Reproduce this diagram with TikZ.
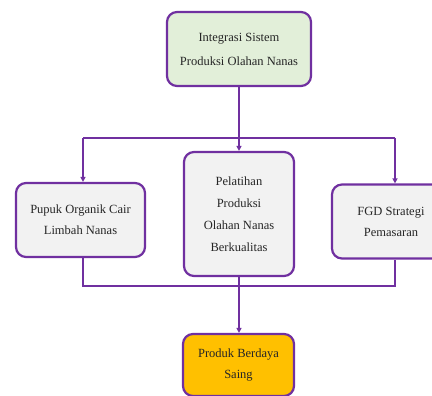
\documentclass[tikz,border=0pt]{standalone}
\usepackage{fontspec}
\setmainfont{Liberation Serif}
\usetikzlibrary{arrows.meta}
\definecolor{purp}{HTML}{7030A0}
\definecolor{greenfill}{HTML}{E2EFD9}
\definecolor{grayfill}{HTML}{F2F2F2}
\definecolor{orangefill}{HTML}{FFC000}
\begin{document}
\begin{tikzpicture}[x=1pt,y=-1pt,
  box/.style={draw=purp, line width=2.2pt, rounded corners=10pt, align=center,
    inner sep=0pt, font=\fontsize{12.5}{21}\selectfont, text=black!85},
  conn/.style={draw=purp, line width=1.7pt},
  arr/.style={conn, -{Triangle[length=5pt,width=5pt]}}]
\useasboundingbox (0,0) rectangle (432,396);
\clip (0,0) rectangle (432,396);
\node[box, fill=greenfill, minimum width=144pt, minimum height=74pt,
  font=\fontsize{12.5}{24}\selectfont] (top) at (239,49)
  {Integrasi Sistem\\Produksi Olahan Nanas};
\node[box, fill=grayfill, minimum width=129pt, minimum height=74pt] (left) at (80.5,220)
  {Pupuk Organik Cair\\Limbah Nanas};
\node[box, fill=grayfill, minimum width=110pt, minimum height=124pt,
  font=\fontsize{12.5}{22}\selectfont] (mid) at (239,214)
  {Pelatihan\\Produksi\\Olahan Nanas\\Berkualitas};
\node[box, fill=grayfill, minimum width=118pt, minimum height=74pt] (right) at (391,221.5)
  {FGD Strategi\\Pemasaran};
\node[box, fill=orangefill, minimum width=111pt, minimum height=62pt] (bot) at (238.5,365)
  {Produk Berdaya\\Saing};
\coordinate (jL) at (83,138);
\coordinate (jC) at (239,138);
\coordinate (jR) at (395,138);
\coordinate (kL) at (83,286);
\coordinate (kC) at (239,286);
\coordinate (kR) at (395,286);
\draw[conn] (top.south -| jC) -- (jC);
\draw[conn] (jL) -- (jR);
\draw[arr] (jL) -- (jL |- left.north);
\draw[arr] (jC) -- (jC |- mid.north);
\draw[arr] (jR) -- (jR |- right.north);
\draw[conn] (kL |- left.south) -- (kL) -- (kR) -- (kR |- right.south);
\draw[conn] (kC |- mid.south) -- (kC);
\draw[arr] (kC) -- (kC |- bot.north);
\end{tikzpicture}
\end{document}
